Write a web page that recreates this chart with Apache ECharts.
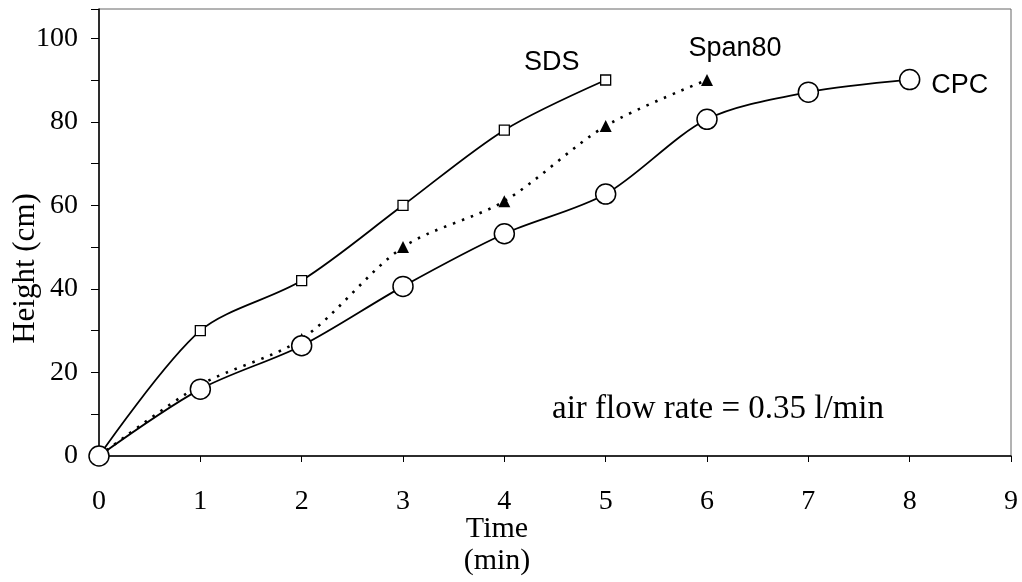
<!DOCTYPE html>
<html>
<head>
<meta charset="utf-8">
<script src="https://cdn.jsdelivr.net/npm/echarts@6/dist/echarts.min.js"></script>
<style>html,body{margin:0;padding:0;background:#fff;}#c{width:1022px;height:582px;}</style>
</head>
<body>
<div id="c"></div>
<script>
var timeSDS = [0, 1, 2, 3, 4, 5];
var heightSDS = [0, 30, 42, 60, 78, 90];
var timeSpan80 = [0, 1, 2, 3, 4, 5, 6];
var heightSpan80 = [0, 17, 28, 50, 61, 79, 90];
var timeCPC = [0, 1, 2, 3, 4, 5, 6, 7, 8];
var heightCPC = [0, 16, 26.4, 40.6, 53.2, 62.7, 80.6, 87.1, 90.1];
var seriesNames = ['SDS', 'Span80', 'CPC'];
var xTitle = 'Time\n(min)';
var yTitle = 'Height (cm)';
var note = 'air flow rate = 0.35 l/min';

function build(xs, ys, labelOffset) {
  return ys.map(function (v, i) {
    var item = { value: [xs[i], v] };
    if (i === ys.length - 1) {
      item.label = {
        show: true, position: 'inside', offset: labelOffset,
        formatter: '{a}', color: '#000', fontFamily: 'Liberation Sans', fontSize: 27
      };
    }
    return item;
  });
}

var chart = echarts.init(document.getElementById('c'), null, { renderer: 'canvas' });
var serif = 'Liberation Serif';
chart.setOption({
  animation: false,
  backgroundColor: '#fff',
  grid: { left: 99, right: 11, top: 9, bottom: 126, containLabel: false, outerBoundsMode: 'none',
          show: true, borderColor: '#666', borderWidth: 1 },
  xAxis: {
    type: 'value', min: 0, max: 9, interval: 1,
    name: xTitle, nameLocation: 'middle', nameGap: 57, nameMoveOverlap: false,
    nameTextStyle: { fontFamily: serif, fontSize: 30, color: '#000', lineHeight: 32, padding: [0, 116, 0, 0] },
    axisLine: { show: true, onZero: false, lineStyle: { color: '#000', width: 1.5 } },
    axisTick: { show: true, length: 6, lineStyle: { color: '#000' } },
    axisLabel: { fontFamily: serif, fontSize: 28, color: '#000', margin: 32 },
    splitLine: { show: false }
  },
  yAxis: {
    type: 'value', min: 0, max: 107, interval: 20,
    name: yTitle, nameLocation: 'middle', nameGap: 58, nameRotate: 90, nameMoveOverlap: false,
    nameTextStyle: { fontFamily: serif, fontSize: 31, color: '#000', padding: [0, 72, 0, 0] },
    axisLine: { show: true, onZero: false, lineStyle: { color: '#000', width: 1.5 } },
    axisTick: { show: true, length: 8, lineStyle: { color: '#000' } },
    minorTick: { show: true, splitNumber: 2, length: 8, lineStyle: { color: '#000' } },
    axisLabel: { fontFamily: serif, fontSize: 28, color: '#000', margin: 21,
      formatter: function (v) { return v % 20 === 0 ? String(v) : ''; } },
    splitLine: { show: false }
  },
  series: [
    {
      name: seriesNames[0], type: 'line', smooth: 0.3,
      data: build(timeSDS, heightSDS, [-54, -17]),
      symbol: 'rect', symbolSize: 10,
      itemStyle: { color: '#fff', borderColor: '#000', borderWidth: 1.3 },
      lineStyle: { color: '#000', width: 1.8 }, z: 2
    },
    {
      name: seriesNames[1], type: 'line', smooth: 0.3,
      data: build(timeSpan80, heightSpan80, [28, -31]),
      symbol: 'triangle', symbolSize: 12,
      itemStyle: { color: '#000', borderColor: '#000', borderWidth: 0 },
      lineStyle: { color: '#000', width: 2.6, type: [2.5, 7] }, z: 3
    },
    {
      name: seriesNames[2], type: 'line', smooth: 0.3,
      data: build(timeCPC, heightCPC, [50, 6]),
      symbol: 'circle', symbolSize: 20,
      itemStyle: { color: '#fff', borderColor: '#000', borderWidth: 1.5 },
      lineStyle: { color: '#000', width: 1.8 }, z: 4
    }
  ],
  graphic: [
    { type: 'text', left: 552, top: 393,
      style: { text: note, fontFamily: serif, fontSize: 33, fill: '#000' } }
  ]
});
</script>
</body>
</html>
